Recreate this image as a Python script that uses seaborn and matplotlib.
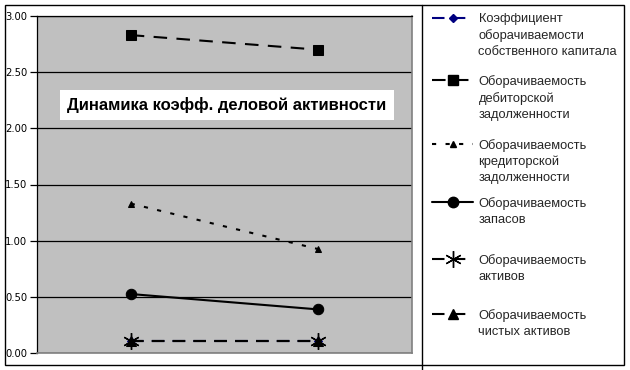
import numpy as np
import pandas as pd
import matplotlib
matplotlib.use("Agg")
import matplotlib.pyplot as plt
from matplotlib.lines import Line2D
from matplotlib.patches import Rectangle
from matplotlib.ticker import FormatStrFormatter
import seaborn as sns

# --- Данные --- #
periods = ["Период 1", "Период 2"]
series_labels = [
    "Коэффициент\nоборачиваемости\nсобственного капитала",
    "Оборачиваемость\nдебиторской\nзадолженности",
    "Оборачиваемость\nкредиторской\nзадолженности",
    "Оборачиваемость\nзапасов",
    "Оборачиваемость\nактивов",
    "Оборачиваемость\nчистых активов",
]
k_sobstv_kapital = [0.11, 0.11]
ob_debitor = [2.83, 2.70]
ob_kreditor = [1.33, 0.925]
ob_zapasov = [0.525, 0.388]
ob_aktivov = [0.11, 0.11]
ob_chist_aktivov = [0.11, 0.11]

title_text = "Динамика коэфф. деловой активности"

# --- Стили линий --- #
styles = [
    dict(color="#000080", marker="D", markersize=4, linestyle=(0, (6, 4)), linewidth=1.5),
    dict(color="black", marker="s", markersize=7.5, linestyle=(0, (6.5, 4.5)), linewidth=1.5),
    dict(color="black", marker="^", markersize=5, linestyle=(0, (2, 4.5)), linewidth=1.5),
    dict(color="black", marker="o", markersize=7.5, linestyle="-", linewidth=1.5),
    dict(color="black", marker=(6, 2, 0), markersize=12, markeredgewidth=1.0, linestyle=(0, (6, 4)), linewidth=1.5),
    dict(color="black", marker="^", markersize=7.5, linestyle=(0, (6, 4)), linewidth=1.5),
]

series_values = [k_sobstv_kapital, ob_debitor, ob_kreditor, ob_zapasov, ob_aktivov, ob_chist_aktivov]

rows = []
for lab, vals in zip(series_labels, series_values):
    for p, v in zip(periods, vals):
        rows.append({"serie": lab, "periodo": p, "valor": v})
df = pd.DataFrame(rows)
df["x"] = df["periodo"].map({p: i for i, p in enumerate(periods)})

sns.set_style("white")
plt.rcParams["font.family"] = ["DejaVu Sans"]

fig = plt.figure(figsize=(6.3, 3.7), dpi=100)
W, H = 630, 370
ax = fig.add_axes([37 / W, (H - 353) / H, (412 - 37) / W, (353 - 16) / H])
ax.set_facecolor("#C0C0C0")

handles = []
for i, lab in enumerate(series_labels):
    sub = df[df["serie"] == lab]
    sns.lineplot(data=sub, x="x", y="valor", ax=ax, zorder=3 + i,
                 markeredgecolor=styles[i]["color"], **styles[i])
    st = styles[i]
    handles.append(Line2D([], [], markeredgecolor=st["color"], **st))

ax.set_xlim(-0.5, len(periods) - 0.5)
ax.set_ylim(0, 3)
ax.set_yticks(np.arange(0, 3.01, 0.5))
ax.yaxis.set_major_formatter(FormatStrFormatter("%.2f"))
ax.set_xticks([])
ax.set_xlabel("")
ax.set_ylabel("")
ax.grid(axis="y", color="black", linewidth=0.9)
ax.set_axisbelow(True)
ax.tick_params(axis="y", left=True, length=5, width=0.9, color="black",
               pad=2, labelsize=7.2, labelcolor="black")
for side in ["left", "top"]:
    ax.spines[side].set_color("black")
    ax.spines[side].set_linewidth(0.9)
for side in ["right", "bottom"]:
    ax.spines[side].set_color("#808080")
    ax.spines[side].set_linewidth(1.2)

# Заголовок в белой рамке
ax.text(0.5066, 0.737, title_text, transform=ax.transAxes, ha="center", va="center",
        fontsize=12, fontweight="bold", family="Liberation Sans", color="black",
        bbox=dict(facecolor="white", edgecolor="none", pad=5), zorder=20)

# Легенда: по одному блоку на серию
entry_tops = [13, 75, 139, 197, 254, 309]
for h, lab, top in zip(handles, series_labels, entry_tops):
    lines = lab.split("\n")
    hs = [h] + [Line2D([], [], linestyle="none") for _ in lines[1:]]
    fig.legend(hs, lines, loc="upper left", bbox_to_anchor=(432 / W, 1 - top / H),
               frameon=False, borderpad=0, borderaxespad=0, handlelength=3.2,
               handletextpad=0.4, labelspacing=0.3,
               prop={"family": "Liberation Sans", "size": 9.3})

# Рамки
fig.add_artist(Rectangle((5 / W, (H - 365) / H), (624 - 5) / W, (365 - 5) / H,
                         transform=fig.transFigure, fill=False, edgecolor="black", linewidth=1.0))
fig.add_artist(Line2D([422 / W, 422 / W], [0, (H - 5) / H], transform=fig.transFigure,
                      color="black", linewidth=1.0))

fig.savefig("out.png", dpi=100)
